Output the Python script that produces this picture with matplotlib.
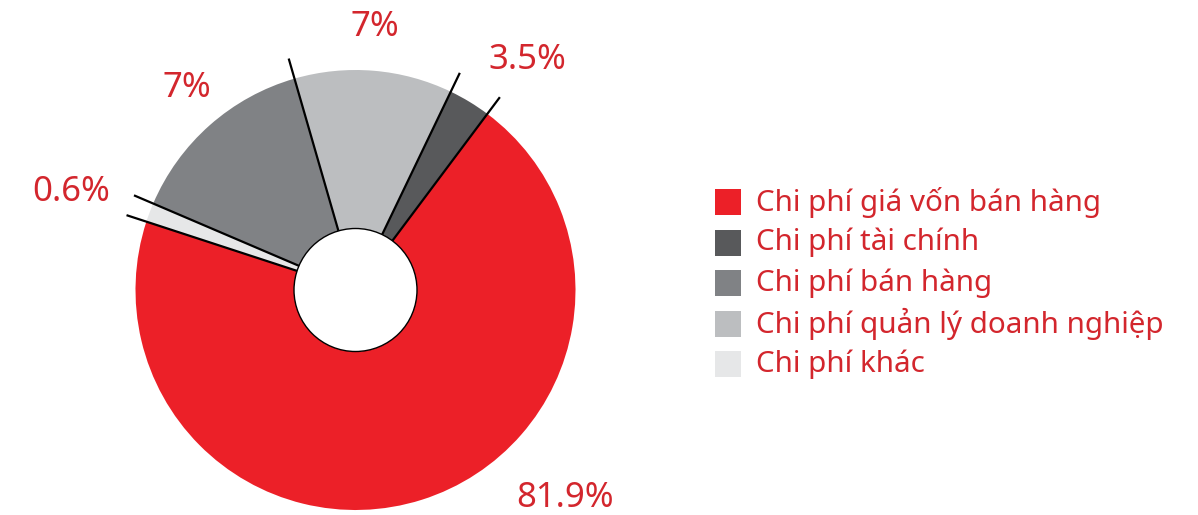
import numpy as np
import matplotlib
matplotlib.use("Agg")
import matplotlib.pyplot as plt
from matplotlib.patches import Circle, Rectangle

plt.rcParams['font.family'] = ['Noto Sans', 'DejaVu Sans']

# categories (legend order)
categories = ["Chi phí giá vốn bán hàng", "Chi phí tài chính", "Chi phí bán hàng",
              "Chi phí quản lý doanh nghiệp", "Chi phí khác"]
# printed labels
pct_labels = ["81.9%", "3.5%", "7%", "7%", "0.6%"]
# wedge sizes as drawn in the picture (%)
shares = [69.8, 3.1, 14.1, 11.6, 1.4]
colors = ["#EC2028", "#58595B", "#808285", "#BCBEC0", "#E6E7E8"]

# drawing order around the ring: red, dark gray, light gray, medium gray, other
order = [0, 1, 3, 2, 4]

text_red = "#D3262D"
W, H = 1198, 515
cx, cy = 355.5, 515 - 290
R, r_in = 220, 61.5
start = 161.9

fig = plt.figure(figsize=(W / 100, H / 100), dpi=100)
ax = fig.add_axes([0, 0, 1, 1])

ax.pie([shares[i] for i in order], colors=[colors[i] for i in order],
       startangle=start, counterclock=True, radius=R, center=(cx, cy),
       wedgeprops=dict(width=R - r_in, linewidth=0))

# hole outline
ax.add_patch(Circle((cx, cy), r_in, facecolor="white", edgecolor="black", lw=1.0, zorder=3))

# boundary lines, reaching outside the ring
bounds = start + 360 * np.cumsum([0] + [shares[i] for i in order[:-1]]) / 100
for a in bounds:
    t = np.radians(a)
    ax.plot([cx + r_in * np.cos(t), cx + R * 1.095 * np.cos(t)],
            [cy + r_in * np.sin(t), cy + R * 1.095 * np.sin(t)],
            color="black", lw=1.6, solid_capstyle="butt", zorder=4)

# percentage labels: (angle, distance) per category
label_place = [(-44.7, 295), (53.3, 287), (129.9, 263), (85.8, 264), (160.9, 301)]
for lab, (ang, dist) in zip(pct_labels, label_place):
    t = np.radians(ang)
    ax.text(cx + dist * np.cos(t), cy + dist * np.sin(t), lab, color=text_red,
            fontsize=25, fontweight="light", ha="center", va="center")

# legend
for k, name in enumerate(categories):
    yk = H - (202 + 40.6 * k)
    ax.add_patch(Rectangle((715, yk - 13), 26, 26, facecolor=colors[k], edgecolor="none"))
    ax.text(756, yk, name, color=text_red, fontsize=21.3, fontweight="light",
            ha="left", va="center")

ax.set_xlim(0, W)
ax.set_ylim(0, H)
ax.set_aspect("equal")
ax.axis("off")

fig.savefig("out.png", dpi=100, facecolor="white")
